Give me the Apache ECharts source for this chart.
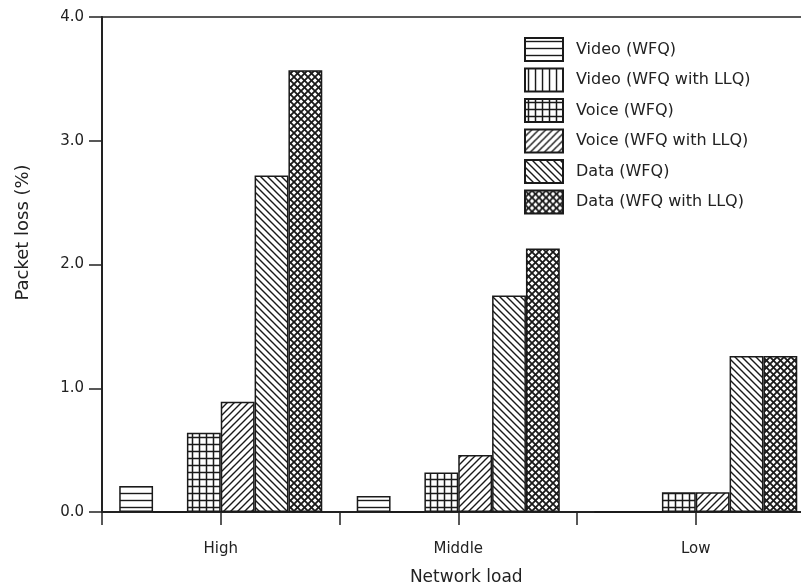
<!DOCTYPE html>
<html>
<head>
<meta charset="utf-8">
<title>Packet loss by network load</title>
<script src="https://cdn.jsdelivr.net/npm/echarts@6/dist/echarts.min.js"></script>
<style>
  html, body { margin: 0; padding: 0; background: #fff; overflow: hidden; }
  #chart { width: 801px; height: 585px; }
</style>
</head>
<body>
<div id="chart"></div>
<script>
// Network load levels
const categories = ['High', 'Middle', 'Low'];

// Packet loss (%) per traffic class and queuing scheme
const videoWfq = [0.21, 0.13, 0];
const videoLlq = [0, 0, 0];
const voiceWfq = [0.64, 0.32, 0.16];
const voiceLlq = [0.89, 0.46, 0.16];
const dataWfq = [2.72, 1.75, 1.26];
const dataLlq = [3.57, 2.13, 1.26];

const seriesNames = [
  'Video (WFQ)',
  'Video (WFQ with LLQ)',
  'Voice (WFQ)',
  'Voice (WFQ with LLQ)',
  'Data (WFQ)',
  'Data (WFQ with LLQ)'
];

// Y axis ticks
const yTicks = [0, 1, 2, 3, 4];

const INK = '#1a1a1a';
const FONT = 'DejaVu Sans';

// Hatch fills drawn onto small repeating tiles
function tile(size, draw) {
  const c = document.createElement('canvas');
  c.width = size; c.height = size;
  const ctx = c.getContext('2d');
  ctx.fillStyle = '#fff';
  ctx.fillRect(0, 0, size, size);
  ctx.strokeStyle = INK;
  ctx.lineCap = 'square';
  draw(ctx, size);
  return { image: c, repeat: 'repeat' };
}

const hatchHorizontal = tile(7, (ctx, s) => {
  ctx.lineWidth = 1.4;
  ctx.beginPath(); ctx.moveTo(0, 3.5); ctx.lineTo(s, 3.5); ctx.stroke();
});
const hatchVertical = tile(7, (ctx, s) => {
  ctx.lineWidth = 1.4;
  ctx.beginPath(); ctx.moveTo(3.5, 0); ctx.lineTo(3.5, s); ctx.stroke();
});
const hatchGrid = tile(7, (ctx, s) => {
  ctx.lineWidth = 1.5;
  ctx.beginPath();
  ctx.moveTo(0, 3.5); ctx.lineTo(s, 3.5);
  ctx.moveTo(3.5, 0); ctx.lineTo(3.5, s);
  ctx.stroke();
});
function diagonal(ctx, s, forward) {
  ctx.beginPath();
  for (let k = -1; k <= 1; k++) {
    if (forward) { ctx.moveTo(k * s, s); ctx.lineTo(k * s + s, 0); }
    else { ctx.moveTo(k * s, 0); ctx.lineTo(k * s + s, s); }
  }
  ctx.stroke();
}
const hatchForward = tile(7, (ctx, s) => { ctx.lineWidth = 1.4; diagonal(ctx, s, true); });
const hatchBack = tile(7, (ctx, s) => { ctx.lineWidth = 1.4; diagonal(ctx, s, false); });
const hatchCross = tile(7, (ctx, s) => {
  ctx.lineWidth = 1.8;
  diagonal(ctx, s, true);
  diagonal(ctx, s, false);
});

const fills = [hatchHorizontal, hatchVertical, hatchGrid, hatchForward, hatchBack, hatchCross];
const values = [videoWfq, videoLlq, voiceWfq, voiceLlq, dataWfq, dataLlq];

const chart = echarts.init(document.getElementById('chart'), null, { renderer: 'canvas' });

chart.setOption({
  animation: false,
  backgroundColor: '#fff',
  grid: {
    left: 102, top: 17, width: 712.5, height: 495,
    outerBoundsMode: 'none',
    containLabel: false,
    show: true, borderColor: '#222', borderWidth: 1.5, backgroundColor: 'transparent'
  },
  legend: {
    orient: 'vertical',
    left: 519, top: 32,
    itemWidth: 38, itemHeight: 23, itemGap: 5.5,
    icon: 'rect',
    selectedMode: false,
    data: seriesNames,
    textStyle: { fontFamily: FONT, fontSize: 16, color: '#222', padding: [0, 0, 0, 8] }
  },
  xAxis: [
    {
      type: 'category',
      position: 'bottom',
      data: categories,
      name: 'Network load',
      nameLocation: 'middle',
      nameGap: 57,
      nameTextStyle: { fontFamily: FONT, fontSize: 17, color: '#222', padding: [0, 0, 0, 16] },
      axisLine: { show: true, lineStyle: { color: '#222', width: 2 } },
      axisTick: { show: true, alignWithLabel: false, length: 13, lineStyle: { color: '#222', width: 1.5 } },
      axisLabel: { fontFamily: FONT, fontSize: 15, color: '#222', margin: 30 },
      splitLine: { show: false }
    },
    {
      type: 'category',
      position: 'bottom',
      data: categories,
      axisLine: { show: false },
      axisTick: { show: true, alignWithLabel: true, length: 13, lineStyle: { color: '#222', width: 1.5 } },
      axisLabel: { show: false },
      splitLine: { show: false }
    }
  ],
  yAxis: {
    type: 'value',
    min: yTicks[0],
    max: yTicks[yTicks.length - 1],
    interval: 1,
    name: 'Packet loss (%)',
    nameLocation: 'middle',
    nameGap: 70,
    nameTextStyle: { fontFamily: FONT, fontSize: 18, color: '#222', padding: [0, 0, 0, 64] },
    axisLine: { show: true, lineStyle: { color: '#222', width: 2 } },
    axisTick: { show: true, inside: false, length: 13, lineStyle: { color: '#222', width: 1.5 } },
    axisLabel: {
      fontFamily: FONT, fontSize: 15, color: '#222', margin: 18,
      formatter: v => v.toFixed(1)
    },
    splitLine: { show: false }
  },
  series: seriesNames.map((name, i) => ({
    name,
    type: 'bar',
    xAxisIndex: 0,
    data: values[i],
    barGap: '0%',
    barCategoryGap: '14.5%',
    itemStyle: { color: fills[i], borderColor: INK, borderWidth: 1.5 },
    emphasis: { disabled: true }
  }))
});
</script>
</body>
</html>
